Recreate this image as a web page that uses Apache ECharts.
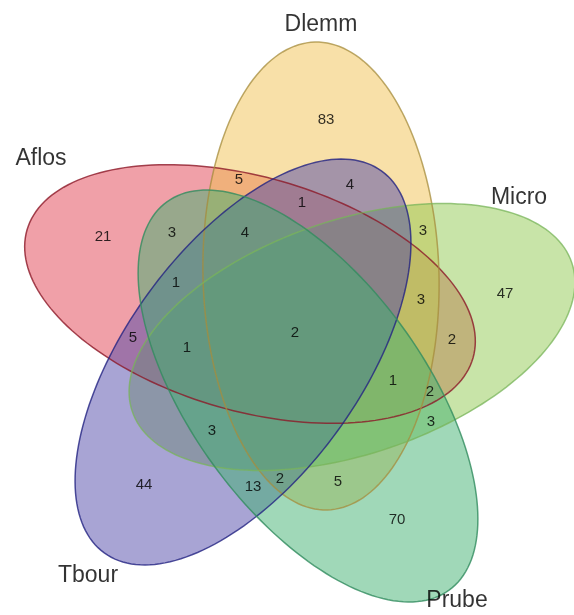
<!DOCTYPE html>
<html>
<head>
<meta charset="utf-8">
<script src="https://cdn.jsdelivr.net/npm/echarts@6/dist/echarts.min.js"></script>
<style>
  html, body { margin: 0; padding: 0; background: #fff; }
  #chart { width: 574px; height: 615px; }
</style>
</head>
<body>
<div id="chart"></div>
<script>
// sets, in drawing order
const setNames = ['Aflos', 'Dlemm', 'Micro', 'Tbour', 'Prube'];

// counts of each region of the diagram
const regionCounts = [83, 5, 4, 1, 21, 3, 4, 3, 1, 3, 47, 2, 5, 1, 2, 1, 2, 3, 3, 44, 13, 2, 5, 70];

// layout: where each count sits (chart space = page pixels)
const regionLabelPos = [
  [326, 120], [239, 180], [350, 185], [302, 203], [103, 237], [172, 233],
  [245, 233], [423, 231], [176, 283], [421, 300], [505, 294], [295, 333],
  [133, 338], [187, 348], [452, 340], [393, 381], [430, 392], [431, 422],
  [212, 431], [144, 485], [253, 487], [280, 479], [338, 482], [397, 520]
];

// layout: ellipse per set [cx, cy, semi-major, semi-minor, angle deg]
const ellipseLayout = [
  [250, 294, 232, 117, 16],
  [321, 276, 234, 118, 88.5],
  [352, 337, 232, 117, -18.7],
  [243, 362, 236, 117, 126],
  [308, 396, 240, 117, 54]
];
const setLabelPos = [[41, 159], [321, 25], [519, 198], [88, 576], [457, 601]];

const fillColors = ['rgba(225,65,81,0.5)', 'rgba(241,193,81,0.5)', 'rgba(145,201,81,0.5)', 'rgba(81,73,169,0.5)', 'rgba(65,177,113,0.5)'];
const edgeColors = ['rgba(140,25,40,0.8)', 'rgba(165,140,60,0.75)', 'rgba(120,180,90,0.75)', 'rgba(35,35,130,0.8)', 'rgba(50,140,95,0.8)'];

const chart = echarts.init(document.getElementById('chart'), null, { renderer: 'canvas' });

const ellipsePoints = (i, api) => {
  const [cx, cy, a, b, deg] = ellipseLayout[i];
  const th = deg * Math.PI / 180;
  const pts = [];
  for (let k = 0; k < 180; k++) {
    const t = k / 180 * Math.PI * 2;
    const x = cx + a * Math.cos(t) * Math.cos(th) - b * Math.sin(t) * Math.sin(th);
    const y = cy + a * Math.cos(t) * Math.sin(th) + b * Math.sin(t) * Math.cos(th);
    pts.push(api.coord([x, y]));
  }
  return pts;
};

// fills first, then all outlines on top
const renderFill = (params, api) => {
  const i = api.value(0);
  return { type: 'polygon', shape: { points: ellipsePoints(i, api) }, style: { fill: fillColors[i] } };
};
const renderEdge = (params, api) => {
  const i = api.value(0);
  return {
    type: 'polygon',
    shape: { points: ellipsePoints(i, api) },
    style: { fill: 'none', stroke: edgeColors[i], lineWidth: 1.5 }
  };
};

const option = {
  animation: false,
  grid: { left: 0, right: 0, top: 0, bottom: 0 },
  xAxis: { type: 'value', min: 0, max: 574, show: false },
  yAxis: { type: 'value', min: 0, max: 615, inverse: true, show: false },
  series: [
    { type: 'custom', renderItem: renderFill, clip: false, data: setNames.map((n, i) => [i]) },
    { type: 'custom', renderItem: renderEdge, clip: false, data: setNames.map((n, i) => [i]) },
    {
      type: 'scatter',
      symbolSize: 0,
      data: regionCounts.map((c, i) => [regionLabelPos[i][0], regionLabelPos[i][1], c]),
      label: {
        show: true,
        position: 'inside',
        formatter: p => p.value[2],
        color: '#000',
        fontSize: 15,
        fontFamily: 'Liberation Sans, Arial, sans-serif'
      }
    },
    {
      type: 'scatter',
      symbolSize: 0,
      data: setNames.map((n, i) => [setLabelPos[i][0], setLabelPos[i][1], n]),
      label: {
        show: true,
        position: 'inside',
        formatter: p => p.value[2],
        color: '#000',
        fontSize: 23,
        fontFamily: 'Liberation Sans, Arial, sans-serif'
      }
    }
  ]
};

chart.setOption(option);
</script>
</body>
</html>
